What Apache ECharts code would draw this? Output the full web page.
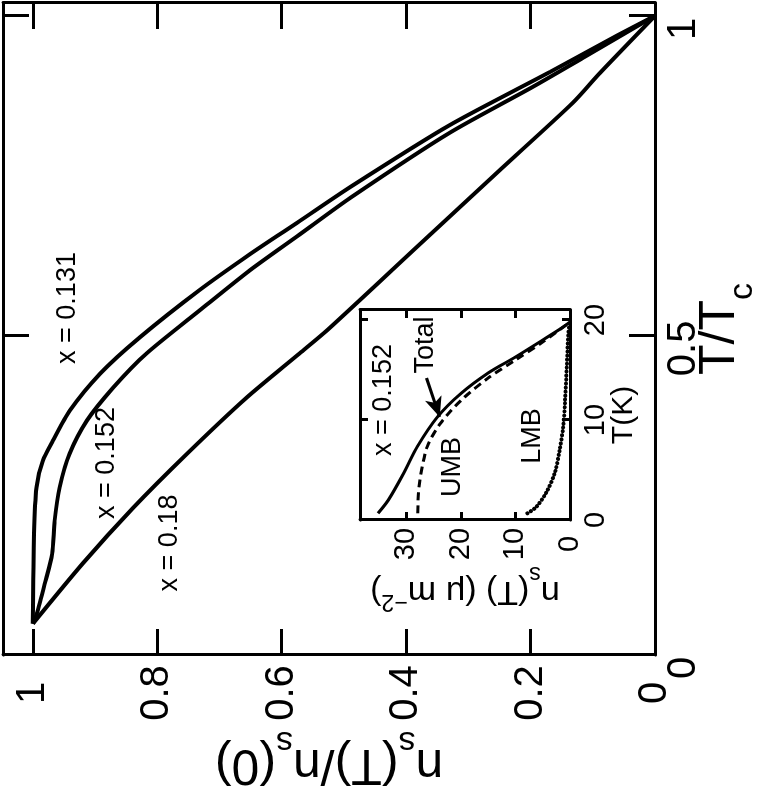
<!DOCTYPE html>
<html lang="en">
<head>
<meta charset="UTF-8">
<title>n_s(T)/n_s(0) versus T/Tc</title>
<script src="https://cdn.jsdelivr.net/npm/echarts@6.0.0/dist/echarts.min.js"></script>
<style>
    html, body { margin: 0; padding: 0; background: #fff; overflow: hidden; }
    #wrap { position: relative; width: 766px; height: 793px; overflow: hidden; }
    /* the figure is drawn upright and then turned a quarter turn left, like the printed page */
    #main {
        position: absolute; left: 0; top: 0;
        width: 793px; height: 766px;
        transform-origin: 0 0;
        transform: translateY(793px) rotate(-90deg);
    }
</style>
</head>
<body>
<div id="wrap"><div id="main"></div></div>
<script>
    var FONT = '"Liberation Sans", Arial, Helvetica, sans-serif';

    // main panel: T/Tc and n_s(T)/n_s(0) for the three dopings
    var t131 = [0.049, 0.190, 0.262, 0.304, 0.335, 0.382, 0.440, 0.497, 0.571, 0.627, 0.679, 0.732, 0.829, 0.912, 0.969, 1.0];
    var n131 = [1.000, 0.998, 0.994, 0.984, 0.968, 0.941, 0.892, 0.828, 0.732, 0.651, 0.571, 0.490, 0.330, 0.169, 0.061, 0];

    var t152 = [0.049, 0.064, 0.111, 0.158, 0.210, 0.262, 0.315, 0.367, 0.418, 0.472, 0.539, 0.602, 0.658, 0.715, 0.817, 0.889, 0.934, 1.0];
    var n152 = [1.000, 0.994, 0.981, 0.969, 0.965, 0.957, 0.941, 0.913, 0.871, 0.817, 0.732, 0.651, 0.571, 0.490, 0.330, 0.196, 0.116, 0];

    var t180 = [0.049, 0.143, 0.230, 0.315, 0.403, 0.472, 0.508, 0.638, 0.759, 0.864, 0.911, 1.0];
    var n180 = [1.000, 0.920, 0.839, 0.752, 0.656, 0.571, 0.527, 0.383, 0.249, 0.132, 0.088, 0];

    // inset: x = 0.152, T in K, n_s in um^-2
    var tTotal = [0.67, 2.0, 4.67, 7.33, 10.3, 12.7, 14.7, 16.3, 18.0, 19.3, 19.8];
    var nTotal = [35.2, 33.3, 30.5, 28.0, 24.3, 19.9, 15.0, 10.0, 5.0, 1.25, 0];

    var tUMB = [0.67, 3.3, 7.3, 9.7, 12.0, 14.2, 16.0, 17.8, 19.8];
    var nUMB = [27.9, 27.7, 26.2, 23.7, 19.9, 15.0, 10.0, 5.0, 0];

    var tLMB = [0.67, 1.3, 2.7, 4.7, 7.0, 9.3, 12.0, 15.3, 18.7, 19.8];
    var nLMB = [7.8, 6.2, 4.4, 2.8, 1.9, 1.25, 0.9, 0.6, 0.3, 0];

    // arrow to the Total curve, [T, n] tail and head
    var arrowFrom = [14.2, 26.3];
    var arrowTo = [10.3, 23.9];

    var mainTicksT = 0.5, mainTicksN = 0.2, insetTicks = 10;

    function pairs(xs, ys) {
        return xs.map(function (x, i) { return [x, ys[i]]; });
    }

    function onStep(step) {
        return function (v) {
            var k = v / step;
            return Math.abs(k - Math.round(k)) < 1e-6 ? String(+v.toFixed(2)) : '';
        };
    }

    function axis(o) {
        var a = {
            type: 'value',
            axisLine: { show: true, onZero: false, lineStyle: { color: '#000', width: 3 } },
            axisTick: { show: true, inside: true, length: 26, lineStyle: { color: '#000', width: 3 } },
            axisLabel: { show: false },
            splitLine: { show: false },
            nameMoveOverlap: false
        };
        for (var k in o) a[k] = o[k];
        return a;
    }

    var mainLabel = { show: true, color: '#000', fontSize: 40, fontFamily: FONT };
    var insetLabel = { show: true, color: '#000', fontSize: 29, fontFamily: FONT };
    var insetTick = { show: true, inside: true, length: 8, lineStyle: { color: '#000', width: 3 } };

    var bigRich = {
        m: { fontSize: 50, lineHeight: 50, verticalAlign: 'top', fontFamily: FONT, color: '#000' },
        s: { fontSize: 34, lineHeight: 34, padding: [31, 0, 0, 0], verticalAlign: 'top', fontFamily: FONT, color: '#000' }
    };
    var smallRich = {
        m: { fontSize: 34, lineHeight: 34, padding: [8, 0, 0, 0], verticalAlign: 'top', fontFamily: FONT, color: '#000' },
        s: { fontSize: 23, lineHeight: 23, padding: [31, 0, 0, 0], verticalAlign: 'top', fontFamily: FONT, color: '#000' },
        p: { fontSize: 23, lineHeight: 23, padding: [3, 0, 0, 0], verticalAlign: 'top', fontFamily: FONT, color: '#000' }
    };

    // text notes, [text, x, y, size] in the upright frame
    var notes = [
        ['x = 0.131', 485, 68, 27],
        ['x = 0.152', 330, 107, 27],
        ['x = 0.18', 250, 170, 27],
        ['x = 0.152', 393, 384, 27],
        ['Total', 448, 426, 27],
        ['UMB', 326, 453, 27],
        ['LMB', 357, 533, 27]
    ];

    var myChart = echarts.init(document.getElementById('main'));

    var option = {
        animation: false,
        backgroundColor: '#fff',
        grid: [
            { left: 138, right: 3, top: 3, bottom: 111, outerBoundsMode: 'none' },
            { left: 273, top: 360, width: 210, height: 210, outerBoundsMode: 'none', show: true, backgroundColor: '#fff', borderWidth: 0 }
        ],
        xAxis: [
            axis({
                gridIndex: 0, min: 0, max: 1.02, interval: mainTicksT, position: 'bottom',
                axisLabel: Object.assign({}, mainLabel, { margin: 9, padding: [0, 26, 0, 0], formatter: onStep(mainTicksT) }),
                name: '{m|T/T}{s|c}', nameLocation: 'middle', nameGap: 40,
                nameTextStyle: { rich: bigRich }
            }),
            axis({ gridIndex: 0, min: 0, max: 1.02, interval: mainTicksT, position: 'top' }),
            axis({
                gridIndex: 1, min: 0, max: 21, interval: insetTicks, position: 'bottom',
                axisTick: insetTick,
                axisLabel: Object.assign({}, insetLabel, { margin: 11, formatter: onStep(insetTicks) }),
                name: 'T(K)', nameLocation: 'middle', nameGap: 39,
                nameTextStyle: { fontSize: 30, fontFamily: FONT, color: '#000' }
            }),
            axis({ gridIndex: 1, min: 0, max: 21, interval: insetTicks, position: 'top', axisTick: insetTick })
        ],
        yAxis: [
            axis({
                gridIndex: 0, min: 0, max: 1.048, interval: mainTicksN, position: 'left',
                axisLabel: Object.assign({}, mainLabel, { margin: 38, align: 'center', formatter: onStep(mainTicksN) }),
                name: '{m|n}{s|s}{m|(T)/n}{s|s}{m|(0)}', nameLocation: 'middle', nameRotate: 90, nameGap: 84,
                nameTextStyle: { rich: bigRich }
            }),
            axis({ gridIndex: 0, min: 0, max: 1.048, interval: mainTicksN, position: 'right' }),
            axis({
                gridIndex: 1, min: 0, max: 38.5, interval: insetTicks, position: 'left',
                axisTick: insetTick,
                axisLabel: Object.assign({}, insetLabel, { margin: 24, align: 'center', formatter: onStep(insetTicks) }),
                name: '{m|n}{s|s}{m|(T) (μ m}{p|−2}{m|)}', nameLocation: 'middle', nameRotate: 90, nameGap: 62,
                nameTextStyle: { rich: smallRich }
            }),
            axis({ gridIndex: 1, min: 0, max: 38.5, interval: insetTicks, position: 'right', axisTick: insetTick })
        ],
        series: [
            {
                name: 'x = 0.131', type: 'line', xAxisIndex: 0, yAxisIndex: 0,
                data: pairs(t131, n131), symbol: 'none', smooth: 0.25,
                lineStyle: { color: '#000', width: 4 }
            },
            {
                name: 'x = 0.152', type: 'line', xAxisIndex: 0, yAxisIndex: 0,
                data: pairs(t152, n152), symbol: 'none', smooth: 0.25,
                lineStyle: { color: '#000', width: 4 }
            },
            {
                name: 'x = 0.18', type: 'line', xAxisIndex: 0, yAxisIndex: 0,
                data: pairs(t180, n180), symbol: 'none', smooth: 0.25,
                lineStyle: { color: '#000', width: 4 }
            },
            {
                name: 'Total', type: 'line', xAxisIndex: 2, yAxisIndex: 2, z: 5,
                data: pairs(tTotal, nTotal), symbol: 'none', smooth: 0.3,
                lineStyle: { color: '#000', width: 3 },
                markLine: {
                    silent: true,
                    symbol: ['none', 'arrow'],
                    symbolSize: [13, 20],
                    label: { show: false },
                    lineStyle: { color: '#000', width: 3, type: 'solid' },
                    data: [[{ coord: arrowFrom }, { coord: arrowTo }]]
                }
            },
            {
                name: 'UMB', type: 'line', xAxisIndex: 2, yAxisIndex: 2, z: 5,
                data: pairs(tUMB, nUMB), symbol: 'none', smooth: 0.3,
                lineStyle: { color: '#000', width: 3, type: [8, 5] }
            },
            {
                name: 'LMB', type: 'line', xAxisIndex: 2, yAxisIndex: 2, z: 5,
                data: pairs(tLMB, nLMB), symbol: 'none', smooth: 0.3,
                lineStyle: { color: '#000', width: 4, type: [0.1, 3.9], cap: 'round' }
            }
        ],
        graphic: notes.map(function (n) {
            return {
                type: 'text', x: n[1], y: n[2], z: 100,
                style: { text: n[0], fill: '#000', fontSize: n[3], fontFamily: FONT, align: 'center', verticalAlign: 'middle' }
            };
        })
    };

    myChart.setOption(option);
</script>
</body>
</html>
